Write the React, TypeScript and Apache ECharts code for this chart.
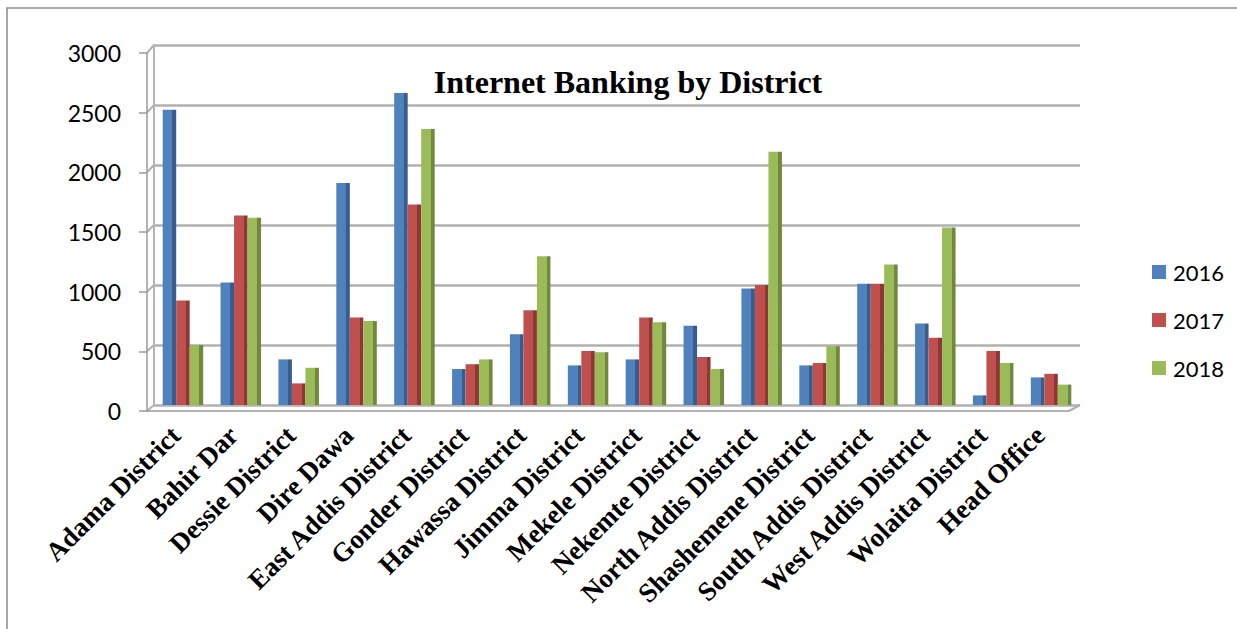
import React, { useEffect, useRef } from "react";
import * as echarts from "echarts";

const categories = [
  "Adama District", "Bahir Dar", "Dessie District", "Dire Dawa", "East Addis District",
  "Gonder District", "Hawassa District", "Jimma District", "Mekele District", "Nekemte District",
  "North Addis District", "Shashemene District", "South Addis District", "West Addis District",
  "Wolaita District", "Head Office",
];
const s2016 = [2460, 1020, 380, 1850, 2600, 300, 590, 330, 380, 660, 970, 330, 1010, 680, 80, 230];
const s2017 = [870, 1580, 180, 730, 1670, 340, 790, 450, 730, 400, 1000, 350, 1010, 560, 450, 260];
const s2018 = [500, 1560, 310, 700, 2300, 380, 1240, 440, 690, 300, 2110, 490, 1170, 1480, 350, 170];
const seriesNames = ["2016", "2017", "2018"];
const yTicks = [0, 500, 1000, 1500, 2000, 2500, 3000];

const faces = [
  ["#4f81bd", "#385d8a"],
  ["#c0504d", "#8c3836"],
  ["#9bbb59", "#71893f"],
];

function barColor(front: string, side: string) {
  return {
    type: "linear", x: 0, y: 0, x2: 1, y2: 0,
    colorStops: [
      { offset: 0, color: front },
      { offset: 0.72, color: front },
      { offset: 0.72, color: side },
      { offset: 1, color: side },
    ],
  };
}

export default function App() {
  const ref = useRef<HTMLDivElement>(null);
  useEffect(() => {
    document.body.style.margin = "0";
    const chart = echarts.init(ref.current!, null, { renderer: "svg" });
    const data = [s2016, s2017, s2018];
    const yMin = yTicks[0];
    const yMax = yTicks[yTicks.length - 1];
    const yInt = yTicks[1] - yTicks[0];
    const border = {
      type: "rect",
      shape: { x: 7, y: 8, width: 1400, height: 800 },
      style: { fill: "none", stroke: "#8a8a8a", lineWidth: 1.5 },
      silent: true,
      z: -1,
    };
    chart.setOption({
      animation: false,
      backgroundColor: "#ffffff",
      title: {
        text: "Internet Banking by District",
        left: 623,
        textAlign: "center",
        top: 61,
        textStyle: { fontFamily: "Liberation Serif", fontWeight: "bold", fontSize: 32, color: "#000" },
      },
      legend: {
        orient: "vertical",
        left: 1147,
        top: 256,
        itemWidth: 14,
        itemHeight: 14,
        itemGap: 26,
        icon: "rect",
        textStyle: { fontFamily: "Lato", fontSize: 22, color: "#000", lineHeight: 22, padding: [0, 0, 0, 2] },
        data: seriesNames.map((n, i) => ({ name: n, itemStyle: { color: faces[i][0] } })),
      },
      graphic: [border],
      grid: [
        { left: 147, top: 53, width: 922, height: 358 },
        { left: 154, top: 45, width: 926, height: 360 },
      ],
      xAxis: [
        {
          gridIndex: 0,
          type: "category",
          data: categories,
          axisLine: { lineStyle: { color: "#9a9a9a", width: 1.5 } },
          axisTick: { length: 8, lineStyle: { color: "#9a9a9a", width: 1.5 } },
          axisLabel: {
            rotate: 45,
            margin: 20,
            interval: 0,
            fontFamily: "Liberation Serif",
            fontWeight: "bold",
            fontSize: 27,
            color: "#000",
          },
        },
        {
          gridIndex: 1,
          type: "category",
          data: categories,
          axisLine: { show: false },
          axisTick: { show: false },
          axisLabel: { show: false },
        },
      ],
      yAxis: [
        {
          gridIndex: 0,
          type: "value",
          min: yMin,
          max: yMax,
          interval: yInt,
          axisLine: { show: true, lineStyle: { color: "#9a9a9a", width: 1.5 } },
          axisTick: { show: true, length: 8, lineStyle: { color: "#9a9a9a", width: 1.5 } },
          splitLine: { show: false },
          axisLabel: {
            margin: 26,
            fontFamily: "Lato",
            fontSize: 23,
            color: "#000",
            formatter: (v: number) => String(v),
          },
        },
        {
          gridIndex: 1,
          type: "value",
          min: yMin,
          max: yMax,
          interval: yInt,
          axisLine: { show: true, lineStyle: { color: "#b5b5b5", width: 2 } },
          axisTick: { show: false },
          axisLabel: { show: false },
          splitLine: { show: true, lineStyle: { color: "#b0b0b0", width: 2.5 } },
        },
      ],
      series: seriesNames.map((n, i) => ({
        name: n,
        type: "bar",
        xAxisIndex: 1,
        yAxisIndex: 1,
        data: data[i],
        barWidth: 13.5,
        barGap: "0%",
        itemStyle: { color: barColor(faces[i][0], faces[i][1]) },
      })),
    });

    // side-wall diagonals joining the front axis to the back wall
    const diag: any[] = [];
    const lineStyle = { stroke: "#b0b0b0", lineWidth: 2 };
    yTicks.forEach((t) => {
      const f = chart.convertToPixel({ gridIndex: 0 }, [0, t]) as number[];
      const b = chart.convertToPixel({ gridIndex: 1 }, [0, t]) as number[];
      if (f && b) {
        diag.push({
          type: "line",
          silent: true,
          shape: { x1: 147, y1: f[1], x2: 154, y2: b[1] },
          style: lineStyle,
        });
      }
    });
    const f0 = chart.convertToPixel({ gridIndex: 0 }, [0, 0]) as number[];
    const b0 = chart.convertToPixel({ gridIndex: 1 }, [0, 0]) as number[];
    diag.push({
      type: "line",
      silent: true,
      shape: { x1: 1069, y1: f0[1], x2: 1080, y2: b0[1] },
      style: lineStyle,
    });
    chart.setOption({ graphic: [border, ...diag] });
    return () => chart.dispose();
  }, []);
  return <div ref={ref} style={{ width: 1237, height: 629 }} />;
}
